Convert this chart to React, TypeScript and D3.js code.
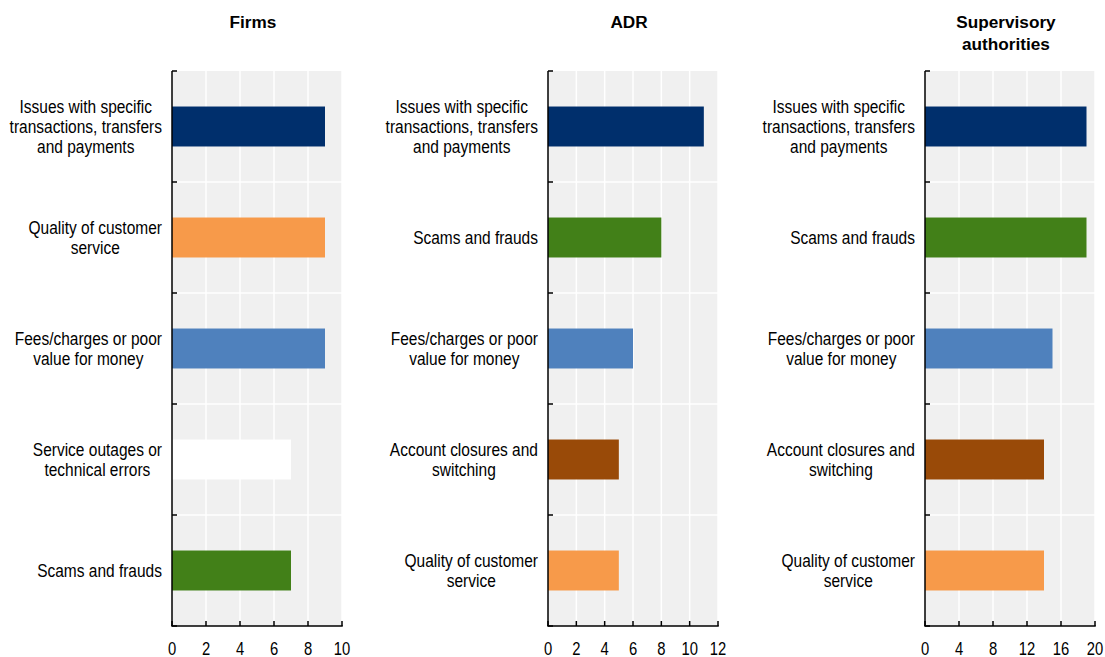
import React from "react";
import * as d3 from "d3";

const firmsCats = [
  "Issues with specific\ntransactions, transfers\nand payments",
  "Quality of customer\nservice",
  "Fees/charges or poor\nvalue for money",
  "Service outages or\ntechnical errors",
  "Scams and frauds",
];
const firmsVals = [9, 9, 9, 7, 7];
const firmsColors = ["#002F6C", "#F79A4A", "#4F81BD", "#FFFFFF", "#428018"];

const adrCats = [
  "Issues with specific\ntransactions, transfers\nand payments",
  "Scams and frauds",
  "Fees/charges or poor\nvalue for money",
  "Account closures and\nswitching",
  "Quality of customer\nservice",
];
const adrVals = [11, 8, 6, 5, 5];
const adrColors = ["#002F6C", "#428018", "#4F81BD", "#994A08", "#F79A4A"];

const supCats = [
  "Issues with specific\ntransactions, transfers\nand payments",
  "Scams and frauds",
  "Fees/charges or poor\nvalue for money",
  "Account closures and\nswitching",
  "Quality of customer\nservice",
];
const supVals = [19, 19, 15, 14, 14];
const supColors = ["#002F6C", "#428018", "#4F81BD", "#994A08", "#F79A4A"];

const firmsTicks = [0, 2, 4, 6, 8, 10];
const adrTicks = [0, 2, 4, 6, 8, 10, 12];
const supTicks = [0, 4, 8, 12, 16, 20];

const FONT = "'Liberation Sans', Arial, sans-serif";

let ctx: CanvasRenderingContext2D | null = null;
function measure(t: string, size: number) {
  if (!ctx) {
    const c = document.createElement("canvas");
    ctx = c.getContext("2d");
  }
  if (!ctx) return t.length * size * 0.5;
  ctx.font = `${size}px 'Liberation Sans', Arial, sans-serif`;
  return ctx.measureText(t).width;
}

type PanelProps = {
  title: string[];
  cats: string[];
  vals: number[];
  colors: string[];
  ticks: number[];
  left: number;
};

const TOP = 71;
const BOTTOM = 626;
const WIDTH = 170;
const LABEL_SIZE = 15.5;
const TICK_SIZE = 14.8;
const VSTRETCH = 1.18;

function Panel({ title, cats, vals, colors, ticks, left }: PanelProps) {
  const x = d3.scaleLinear().domain([0, ticks[ticks.length - 1]]).range([left, left + WIDTH]);
  const y = d3.scaleBand<number>().domain(d3.range(cats.length)).range([TOP, BOTTOM]).paddingInner(0).paddingOuter(0);
  const bw = y.bandwidth();
  const barH = bw * 0.36;
  const boundaries = d3.range(cats.length + 1).map((i) => TOP + i * bw);
  const cx = left + WIDTH / 2 - 4;
  const capH = LABEL_SIZE * 0.716 * VSTRETCH;
  return (
    <g>
      {title.map((t, i) => (
        <text key={i} x={cx} y={28 + i * 22} textAnchor="middle" fontFamily={FONT} fontWeight="bold" fontSize={17.2} fill="#000">
          {t}
        </text>
      ))}
      <rect x={left} y={TOP} width={WIDTH} height={BOTTOM - TOP} fill="#F0F0F0" />
      {ticks.slice(1).map((t) => (
        <line key={"v" + t} x1={x(t)} x2={x(t)} y1={TOP} y2={BOTTOM} stroke="#fff" strokeWidth={1.5} />
      ))}
      {boundaries.slice(1, -1).map((b, i) => (
        <line key={"h" + i} x1={left} x2={left + WIDTH} y1={b} y2={b} stroke="#fff" strokeWidth={1.5} />
      ))}
      {vals.map((v, i) => (
        <rect key={"b" + i} x={x(0)} y={(y(i) as number) + bw / 2 - barH / 2} width={x(v) - x(0)} height={barH} fill={colors[i]} />
      ))}
      {cats.map((c, i) => {
        const lines = c.split("\n");
        const maxW = Math.max(...lines.map((l) => measure(l, LABEL_SIZE)));
        const lx = left - 10 - maxW / 2;
        const lh = 20;
        const cy = (y(i) as number) + bw / 2;
        const y0 = cy - ((lines.length - 1) * lh) / 2 + capH / 2;
        return (
          <g key={"l" + i}>
            {lines.map((l, j) => (
              <text
                key={j}
                transform={`translate(${lx},${y0 + j * lh}) scale(1,${VSTRETCH})`}
                textAnchor="middle"
                fontFamily={FONT}
                fontSize={LABEL_SIZE}
                fill="#000"
              >
                {l}
              </text>
            ))}
          </g>
        );
      })}
      <line x1={left} x2={left} y1={TOP} y2={BOTTOM} stroke="#000" strokeWidth={1.5} />
      {boundaries.map((b, i) => (
        <line key={"lt" + i} x1={left} x2={left + 5} y1={b} y2={b} stroke="#000" strokeWidth={1.5} />
      ))}
      <line x1={left - 0.75} x2={left + WIDTH + 0.75} y1={BOTTOM} y2={BOTTOM} stroke="#000" strokeWidth={1.5} />
      {ticks.map((t) => (
        <g key={"bt" + t}>
          <line x1={x(t)} x2={x(t)} y1={BOTTOM} y2={BOTTOM - 5} stroke="#000" strokeWidth={1.5} />
          <text
            transform={`translate(${x(t)},655) scale(1,${VSTRETCH})`}
            textAnchor="middle"
            fontFamily={FONT}
            fontSize={TICK_SIZE}
            fill="#000"
          >
            {t}
          </text>
        </g>
      ))}
    </g>
  );
}

export default function App() {
  return (
    <svg width={1105} height={657} style={{ position: "absolute", left: 0, top: 0, background: "#fff" }}>
      <Panel title={["Firms"]} cats={firmsCats} vals={firmsVals} colors={firmsColors} ticks={firmsTicks} left={172} />
      <Panel title={["ADR"]} cats={adrCats} vals={adrVals} colors={adrColors} ticks={adrTicks} left={548} />
      <Panel title={["Supervisory", "authorities"]} cats={supCats} vals={supVals} colors={supColors} ticks={supTicks} left={925} />
    </svg>
  );
}
